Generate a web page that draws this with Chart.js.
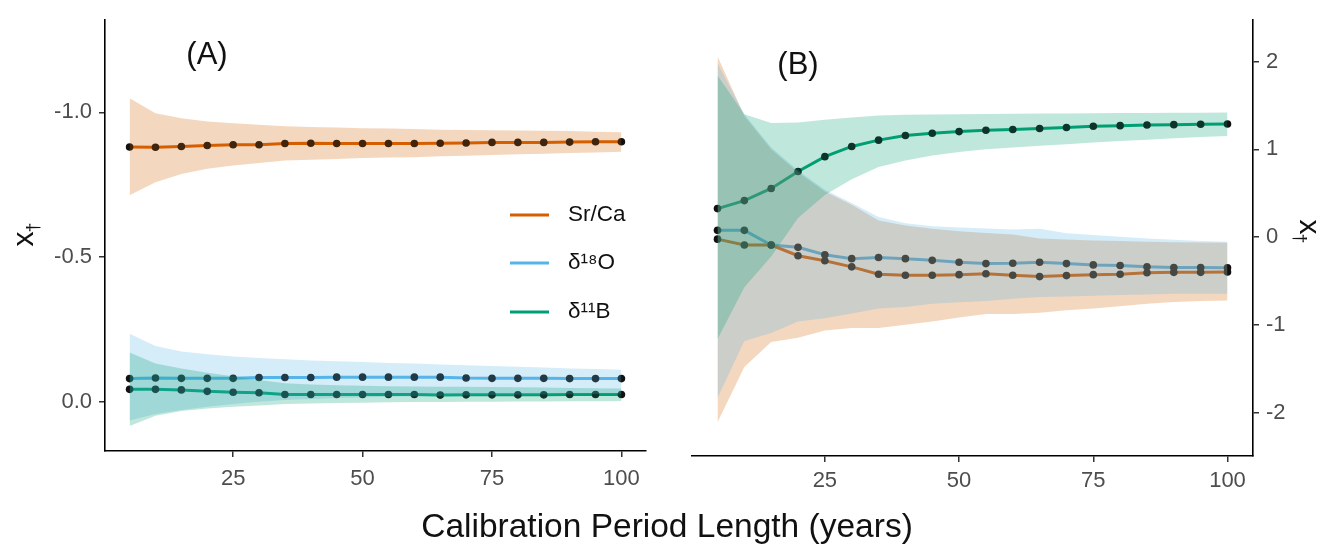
<!DOCTYPE html>
<html><head><meta charset="utf-8">
<script src="https://cdn.jsdelivr.net/npm/chart.js@4/dist/chart.umd.min.js"></script>
<style>
html,body{margin:0;padding:0;background:#fff;width:1328px;height:550px;overflow:hidden;font-family:"Liberation Sans",Arial,sans-serif}
#ca{position:absolute;left:0;top:0}
#cb{position:absolute;left:660px;top:0}
#xtitle{position:absolute;left:0;width:1334px;top:509px;text-align:center;font-size:33.5px;line-height:34px;color:#111}
</style></head><body>
<canvas id="ca" width="660" height="550"></canvas>
<canvas id="cb" width="668" height="550"></canvas>
<div id="xtitle">Calibration Period Length (years)</div>
<script>
// ---- data ----
const years = [5,10,15,20,25,30,35,40,45,50,55,60,65,70,75,80,85,90,95,100];
const xTicks = [25,50,75,100];
const yTicksA = [-1.0,-0.5,0.0];
const yTicksB = [2,1,0,-1,-2];
const seriesNames = ["Sr/Ca","δ¹⁸O","δ¹¹B"];

// Panel A
const srcaA    = [-0.880,-0.879,-0.882,-0.885,-0.888,-0.888,-0.892,-0.893,-0.892,-0.892,-0.892,-0.892,-0.893,-0.894,-0.896,-0.896,-0.896,-0.897,-0.898,-0.898];
const srcaA_lo = [-1.048,-0.997,-0.979,-0.968,-0.962,-0.957,-0.952,-0.949,-0.947,-0.945,-0.944,-0.942,-0.940,-0.939,-0.938,-0.937,-0.936,-0.935,-0.933,-0.931];
const srcaA_hi = [-0.713,-0.758,-0.787,-0.805,-0.816,-0.825,-0.833,-0.836,-0.839,-0.842,-0.844,-0.845,-0.848,-0.850,-0.852,-0.855,-0.857,-0.859,-0.861,-0.864];
const d18oA    = [-0.080,-0.082,-0.081,-0.081,-0.081,-0.084,-0.084,-0.084,-0.085,-0.085,-0.085,-0.085,-0.085,-0.082,-0.081,-0.081,-0.081,-0.080,-0.080,-0.080];
const d18oA_lo = [-0.235,-0.193,-0.174,-0.164,-0.156,-0.151,-0.147,-0.143,-0.140,-0.137,-0.134,-0.132,-0.129,-0.126,-0.124,-0.121,-0.118,-0.115,-0.113,-0.111];
const d18oA_hi = [0.065,0.042,0.028,0.017,0.008,0.000,-0.006,-0.010,-0.013,-0.015,-0.017,-0.019,-0.020,-0.022,-0.023,-0.024,-0.025,-0.026,-0.027,-0.028];
const d11bA    = [-0.043,-0.043,-0.041,-0.036,-0.033,-0.031,-0.025,-0.025,-0.025,-0.025,-0.025,-0.025,-0.023,-0.024,-0.024,-0.024,-0.024,-0.025,-0.025,-0.025];
const d11bA_lo = [-0.170,-0.132,-0.115,-0.100,-0.088,-0.075,-0.064,-0.060,-0.057,-0.055,-0.054,-0.053,-0.052,-0.052,-0.051,-0.050,-0.049,-0.048,-0.047,-0.046];
const d11bA_hi = [0.084,0.048,0.032,0.023,0.017,0.013,0.008,0.006,0.004,0.003,0.002,0.001,0.001,0.000,0.000,-0.001,-0.001,-0.002,-0.002,-0.003];

// Panel B
const srcaB    = [-0.022,-0.089,-0.089,-0.211,-0.267,-0.337,-0.422,-0.433,-0.433,-0.426,-0.415,-0.433,-0.448,-0.437,-0.426,-0.422,-0.404,-0.400,-0.400,-0.396];
const srcaB_lo = [-2.107,-1.478,-1.193,-1.144,-1.063,-1.033,-1.033,-0.996,-0.959,-0.915,-0.874,-0.874,-0.859,-0.830,-0.811,-0.785,-0.756,-0.737,-0.726,-0.719];
const srcaB_hi = [2.06,1.38,1.00,0.74,0.52,0.37,0.189,0.133,0.096,0.067,0.048,0.030,-0.015,-0.026,-0.037,-0.044,-0.052,-0.056,-0.059,-0.063];
const d18oB    = [0.078,0.078,-0.089,-0.115,-0.200,-0.244,-0.230,-0.244,-0.263,-0.285,-0.300,-0.296,-0.285,-0.300,-0.315,-0.322,-0.337,-0.344,-0.344,-0.348];
const d18oB_lo = [-1.83,-1.181,-1.089,-0.959,-0.922,-0.867,-0.811,-0.793,-0.756,-0.741,-0.726,-0.700,-0.681,-0.674,-0.667,-0.659,-0.652,-0.644,-0.644,-0.644];
const d18oB_hi = [1.98,1.40,1.02,0.76,0.54,0.39,0.23,0.16,0.125,0.112,0.100,0.089,0.096,0.045,0.025,0.005,-0.015,-0.028,-0.042,-0.052];
const d11bB    = [0.326,0.417,0.555,0.748,0.917,1.033,1.105,1.157,1.183,1.202,1.217,1.226,1.237,1.248,1.263,1.270,1.278,1.281,1.285,1.289];
const d11bB_lo = [-1.16,-0.57,-0.22,0.22,0.48,0.66,0.80,0.874,0.93,0.97,1.00,1.022,1.04,1.059,1.078,1.096,1.11,1.126,1.14,1.152];
const d11bB_hi = [1.84,1.40,1.30,1.307,1.337,1.363,1.385,1.393,1.397,1.40,1.403,1.405,1.407,1.409,1.411,1.413,1.415,1.417,1.418,1.419];

// ---- styling ----
const FONT = '"Liberation Sans", Arial, sans-serif';
const lineColors = ['#D55E00','#56B4E9','#009E73'];
const bandColors = ['rgba(213,94,0,0.25)','rgba(86,180,233,0.25)','rgba(0,158,115,0.25)'];

function pts(arr){ return years.map((x,i)=>({x:x,y:arr[i]})); }

function buildDatasets(vals, los, his){
  const ds = [];
  for (let k=0;k<3;k++){
    ds.push({label:seriesNames[k], data:pts(vals[k]), borderColor:lineColors[k], borderWidth:3,
      pointRadius:3.8, pointBackgroundColor:'#111', pointBorderWidth:0, fill:false, order:10, tension:0});
  }
  for (let k=0;k<3;k++){
    const loIdx = ds.length;
    ds.push({label:seriesNames[k]+' low', data:pts(los[k]), borderWidth:0, borderColor:'rgba(0,0,0,0)',
      pointRadius:0, fill:false, order:5-k});
    ds.push({label:seriesNames[k]+' high', data:pts(his[k]), borderWidth:0, borderColor:'rgba(0,0,0,0)',
      pointRadius:0, fill:loIdx, backgroundColor:bandColors[k], order:5-k});
  }
  return ds;
}

function xScale(h, pad){
  return {type:'linear', min:0.25, max:104.75,
    afterBuildTicks: s => { s.ticks = xTicks.map(v=>({value:v})); },
    ticks:{color:'#4d4d4d', font:{size:22, family:FONT}, padding:pad, maxRotation:0, autoSkip:false},
    grid:{drawOnChartArea:false, drawTicks:true, tickLength:6, color:'#333', lineWidth:1.5},
    border:{display:true, color:'#000', width:1.6},
    afterFit: s => { s.height = h; }
  };
}

function drawXDagger(ctx, cx, cy, rot){
  ctx.save();
  ctx.translate(cx, cy);
  ctx.rotate(rot);
  ctx.fillStyle = '#111';
  ctx.textBaseline = 'alphabetic';
  ctx.font = '30px ' + FONT;
  const w1 = ctx.measureText('x').width;
  ctx.font = '18px ' + FONT;
  const w2 = ctx.measureText('†').width;
  const start = -(w1 + w2)/2;
  ctx.font = '30px ' + FONT;
  ctx.textAlign = 'left';
  ctx.fillText('x', start, 8);
  ctx.font = '18px ' + FONT;
  ctx.fillText('†', start + w1 - 1, 14);
  ctx.restore();
}

const labelsA = {
  id:'labelsA',
  afterDraw(chart){
    const ctx = chart.ctx;
    ctx.save();
    ctx.fillStyle = '#111';
    ctx.font = '31px ' + FONT;
    ctx.textAlign = 'center'; ctx.textBaseline = 'middle';
    ctx.fillText('(A)', 207, 55);
    // legend
    const ly = [215, 263, 312];
    for (let k=0;k<3;k++){
      ctx.strokeStyle = lineColors[k]; ctx.lineWidth = 3;
      ctx.beginPath(); ctx.moveTo(510, ly[k]); ctx.lineTo(549, ly[k]); ctx.stroke();
      ctx.font = '22.5px ' + FONT; ctx.textAlign = 'left'; ctx.fillStyle = '#111';
      ctx.fillText(seriesNames[k], 568, ly[k]);
    }
    ctx.restore();
    drawXDagger(ctx, 25, 234, -Math.PI/2);
  }
};
const labelsB = {
  id:'labelsB',
  afterDraw(chart){
    const ctx = chart.ctx;
    ctx.save();
    ctx.fillStyle = '#111';
    ctx.font = '31px ' + FONT;
    ctx.textAlign = 'center'; ctx.textBaseline = 'middle';
    ctx.fillText('(B)', 138, 65);
    ctx.restore();
    drawXDagger(ctx, 648, 232, Math.PI/2);
  }
};

const common = {
  responsive:false, animation:false,
  plugins:{legend:{display:false}, tooltip:{enabled:false}},
  elements:{line:{tension:0}}
};

new Chart(document.getElementById('ca'), {
  type:'line',
  data:{datasets: buildDatasets([srcaA,d18oA,d11bA],[srcaA_lo,d18oA_lo,d11bA_lo],[srcaA_hi,d18oA_hi,d11bA_hi])},
  options:Object.assign({}, common, {
    layout:{padding:{left:0, top:18, right:14, bottom:0}},
    scales:{
      x: xScale(99, 9),
      y: {type:'linear', position:'left', reverse:true, min:-1.318, max:0.17,
        afterBuildTicks: s => { s.ticks = yTicksA.map(v=>({value:v})); },
        ticks:{color:'#4d4d4d', font:{size:22, family:FONT}, padding:7, callback:v=>Number(v).toFixed(1)},
        grid:{drawOnChartArea:false, drawTicks:true, tickLength:6, color:'#333', lineWidth:1.5},
        border:{display:true, color:'#000', width:1.6},
        afterFit: s => { s.width = 105; }
      }
    }
  }),
  plugins:[labelsA]
});

new Chart(document.getElementById('cb'), {
  type:'line',
  data:{datasets: buildDatasets([srcaB,d18oB,d11bB],[srcaB_lo,d18oB_lo,d11bB_lo],[srcaB_hi,d18oB_hi,d11bB_hi])},
  options:Object.assign({}, common, {
    layout:{padding:{left:32, top:10, right:0, bottom:0}},
    scales:{
      x: xScale(94, 6),
      y: {type:'linear', position:'right', min:-2.49, max:2.47,
        afterBuildTicks: s => { s.ticks = yTicksB.map(v=>({value:v})); },
        ticks:{color:'#4d4d4d', font:{size:22, family:FONT}, padding:7, callback:v=>String(v)},
        grid:{drawOnChartArea:false, drawTicks:true, tickLength:6, color:'#333', lineWidth:1.5},
        border:{display:true, color:'#000', width:1.6},
        afterFit: s => { s.width = 75; }
      }
    }
  }),
  plugins:[labelsB]
});
</script>
</body></html>
